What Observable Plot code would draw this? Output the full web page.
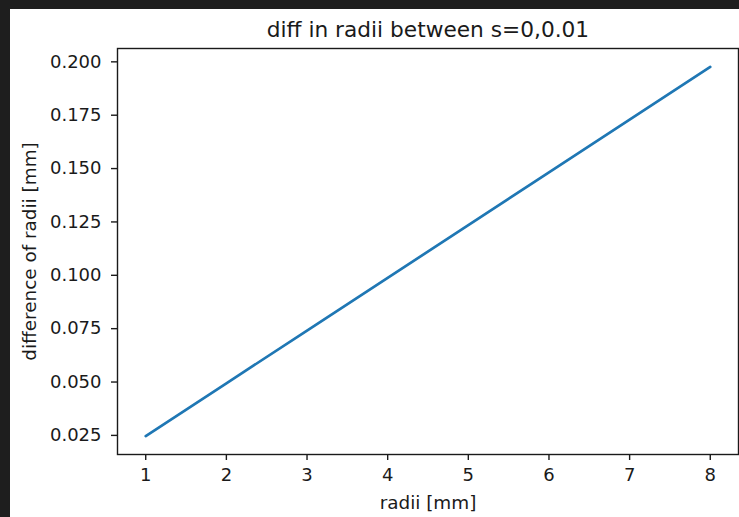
<!DOCTYPE html>
<html>
<head>
<meta charset="utf-8">
<script src="https://cdn.jsdelivr.net/npm/d3@7"></script>
<script src="https://cdn.jsdelivr.net/npm/@observablehq/plot@0.6"></script>
<style>
  html, body { margin: 0; padding: 0; }
  body { background: #1e1e1e; width: 739px; height: 517px; overflow: hidden; position: relative; }
  #panel { position: absolute; left: 10px; top: 9px; width: 729px; height: 508px; background: #ffffff; }
  #panel svg { display: block; }
</style>
</head>
<body>
<div id="panel"></div>
<script>
const title = "diff in radii between s=0,0.01";
const xLabel = "radii [mm]";
const yLabel = "difference of radii [mm]";
const radii = [1, 2, 3, 4, 5, 6, 7, 8];
const diffs = [0.0247, 0.0494, 0.0741, 0.0988, 0.1235, 0.1482, 0.1729, 0.1976];
const xTicks = [1, 2, 3, 4, 5, 6, 7, 8];
const yTicks = [0.025, 0.05, 0.075, 0.1, 0.125, 0.15, 0.175, 0.2];

const data = radii.map((r, i) => ({r, d: diffs[i]}));
const font = "DejaVu Sans, sans-serif";
const ink = "#1a1a1a";

const chart = Plot.plot({
  width: 729,
  height: 508,
  marginLeft: 107,
  marginRight: 1,
  marginTop: 39,
  marginBottom: 63,
  style: {fontFamily: font, fontSize: "18px", color: ink, background: "#ffffff", overflow: "visible"},
  x: {domain: [0.65, 8.35], ticks: xTicks, tickFormat: d3.format("d"), label: null},
  y: {domain: [0.01605, 0.20625], ticks: yTicks, tickFormat: d3.format(".3f"), label: null},
  marks: [
    Plot.axisX({ticks: xTicks, tickSize: 6, tickPadding: 8, tickFormat: d3.format("d"), label: null, stroke: ink, strokeWidth: 1.4, fill: ink, fontSize: 18}),
    Plot.axisY({ticks: yTicks, tickSize: 6, tickPadding: 10, tickFormat: d3.format(".3f"), label: null, stroke: ink, strokeWidth: 1.4, fill: ink, fontSize: 18}),
    Plot.line(data, {x: "r", y: "d", stroke: "#1f77b4", strokeWidth: 2.7}),
    Plot.frame({stroke: ink, strokeWidth: 1.4}),
    Plot.text([title], {frameAnchor: "top", lineAnchor: "middle", dy: -18, fontSize: 21.7, fill: ink, text: d => d}),
    Plot.text([xLabel], {frameAnchor: "bottom", lineAnchor: "middle", dy: 49, fontSize: 18.4, fill: ink, text: d => d}),
    Plot.text([yLabel], {frameAnchor: "left", textAnchor: "middle", lineAnchor: "middle", rotate: -90, dx: -87, fontSize: 18.4, fill: ink, text: d => d})
  ]
});
document.getElementById("panel").appendChild(chart);
</script>
</body>
</html>
